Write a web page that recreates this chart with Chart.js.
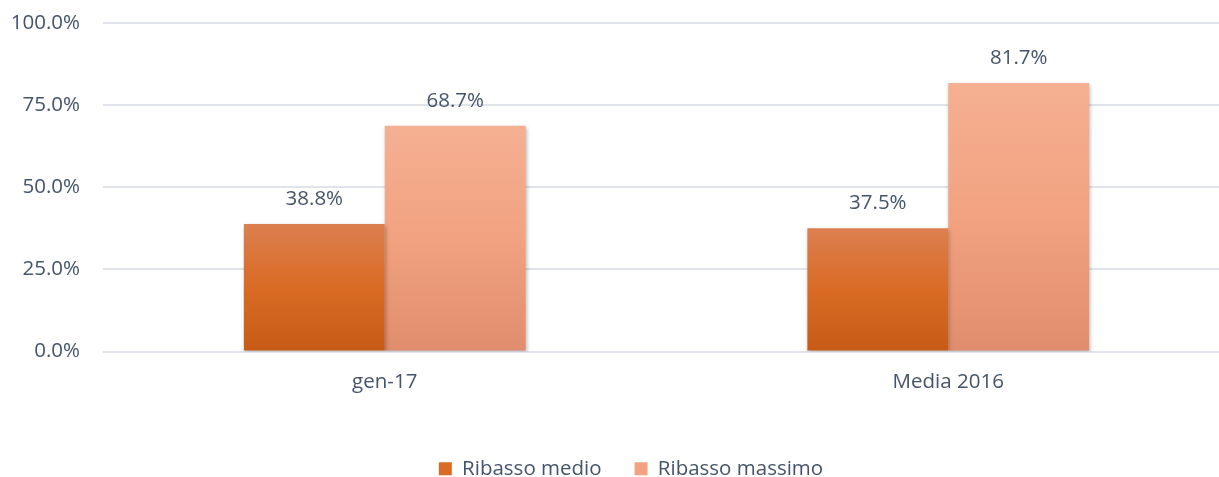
<!DOCTYPE html>
<html>
<head>
<meta charset="utf-8">
<script src="https://cdn.jsdelivr.net/npm/chart.js@4.4.0/dist/chart.umd.min.js"></script>
<style>
    html, body { margin: 0; padding: 0; background: #fff; overflow: hidden; }
    #wrap { width: 1219px; height: 477px; overflow: hidden; }
</style>
</head>
<body>
<div id="wrap"><canvas id="ribassoChart" width="1230" height="477"></canvas></div>
<script>
// chart data
const categories = ['gen-17', 'Media 2016'];
const ribassoMedio = [0.388, 0.375];
const ribassoMassimo = [0.687, 0.817];
const yTicks = [0, 0.25, 0.5, 0.75, 1];

const textColor = '#44546a';
const fontFamily = "'Open Sans', 'Noto Sans', sans-serif";
const fontSize = 20.5;

// gradient stops per series (top, middle, bottom)
const medioStops = ['#dc7f50', '#d96b24', '#c75b16'];
const massimoStops = ['#f4b092', '#f2a280', '#e08d6e'];

function barGradient(stops) {
    return function(context) {
        const chart = context.chart;
        const yScale = chart.scales.y;
        if (!yScale || context.type !== 'data') return stops[1];
        const top = yScale.getPixelForValue(context.raw);
        const bottom = yScale.getPixelForValue(0);
        if (!isFinite(top) || !isFinite(bottom) || top === bottom) return stops[1];
        const g = chart.ctx.createLinearGradient(0, top, 0, bottom);
        g.addColorStop(0, stops[0]);
        g.addColorStop(0.5, stops[1]);
        g.addColorStop(1, stops[2]);
        return g;
    };
}

function pct(v) {
    return (v * 100).toFixed(1) + '%';
}

// soft shadow under the bars
const barShadow = {
    id: 'barShadow',
    beforeDatasetsDraw(chart) {
        const ctx = chart.ctx;
        ctx.save();
        ctx.shadowColor = 'rgba(0, 0, 0, 0.28)';
        ctx.shadowBlur = 4;
        ctx.shadowOffsetX = 1;
        ctx.shadowOffsetY = 2;
    },
    afterDatasetsDraw(chart) {
        chart.ctx.restore();
    }
};

// value labels above each bar
const valueLabels = {
    id: 'valueLabels',
    afterDatasetsDraw(chart) {
        const ctx = chart.ctx;
        ctx.save();
        ctx.font = fontSize + 'px ' + fontFamily;
        ctx.fillStyle = textColor;
        ctx.textAlign = 'center';
        ctx.textBaseline = 'middle';
        chart.data.datasets.forEach(function(ds, i) {
            const meta = chart.getDatasetMeta(i);
            meta.data.forEach(function(bar, j) {
                ctx.fillText(pct(ds.data[j]), bar.x, bar.y - 25);
            });
        });
        ctx.restore();
    }
};

// nudge the legend a bit to the right, like the original
const legendShift = {
    id: 'legendShift',
    afterLayout(chart) {
        if (chart.legend) {
            chart.legend.left += 16;
            chart.legend.right += 16;
        }
    }
};

const ctx = document.getElementById('ribassoChart').getContext('2d');
const ribassoChart = new Chart(ctx, {
    type: 'bar',
    data: {
        labels: categories,
        datasets: [{
            label: 'Ribasso medio',
            data: ribassoMedio,
            backgroundColor: barGradient(medioStops),
            borderWidth: 0,
            categoryPercentage: 0.5,
            barPercentage: 1.0
        }, {
            label: 'Ribasso massimo',
            data: ribassoMassimo,
            backgroundColor: barGradient(massimoStops),
            borderWidth: 0,
            categoryPercentage: 0.5,
            barPercentage: 1.0
        }]
    },
    options: {
        responsive: false,
        animation: false,
        devicePixelRatio: 1,
        layout: {
            padding: { left: 0, right: 0, top: 23, bottom: -12 }
        },
        plugins: {
            tooltip: { enabled: false },
            legend: {
                position: 'bottom',
                labels: {
                    color: textColor,
                    font: { family: fontFamily, size: fontSize },
                    boxWidth: 13,
                    boxHeight: 13,
                    padding: 33,
                    generateLabels: function(chart) {
                        const solid = [medioStops[1], massimoStops[1]];
                        return chart.data.datasets.map(function(ds, i) {
                            return {
                                text: ds.label,
                                fillStyle: solid[i],
                                strokeStyle: solid[i],
                                lineWidth: 0,
                                fontColor: textColor,
                                hidden: false,
                                datasetIndex: i
                            };
                        });
                    }
                }
            }
        },
        scales: {
            x: {
                grid: { display: false },
                border: { display: false },
                ticks: {
                    color: textColor,
                    font: { family: fontFamily, size: fontSize },
                    padding: 10
                },
                afterFit: function(scale) {
                    scale.height = 74;
                }
            },
            y: {
                min: 0,
                max: 1,
                afterBuildTicks: function(scale) {
                    scale.ticks = yTicks.map(function(v) { return { value: v }; });
                },
                grid: {
                    color: '#e0e4ea',
                    lineWidth: 2,
                    drawTicks: true,
                    tickLength: 23,
                    tickColor: 'rgba(0, 0, 0, 0)'
                },
                border: { display: false },
                ticks: {
                    color: textColor,
                    font: { family: fontFamily, size: fontSize },
                    padding: 0,
                    callback: function(value) { return pct(value); }
                },
                afterFit: function(scale) {
                    scale.width = 103;
                }
            }
        }
    },
    plugins: [barShadow, valueLabels, legendShift]
});
</script>
</body>
</html>
